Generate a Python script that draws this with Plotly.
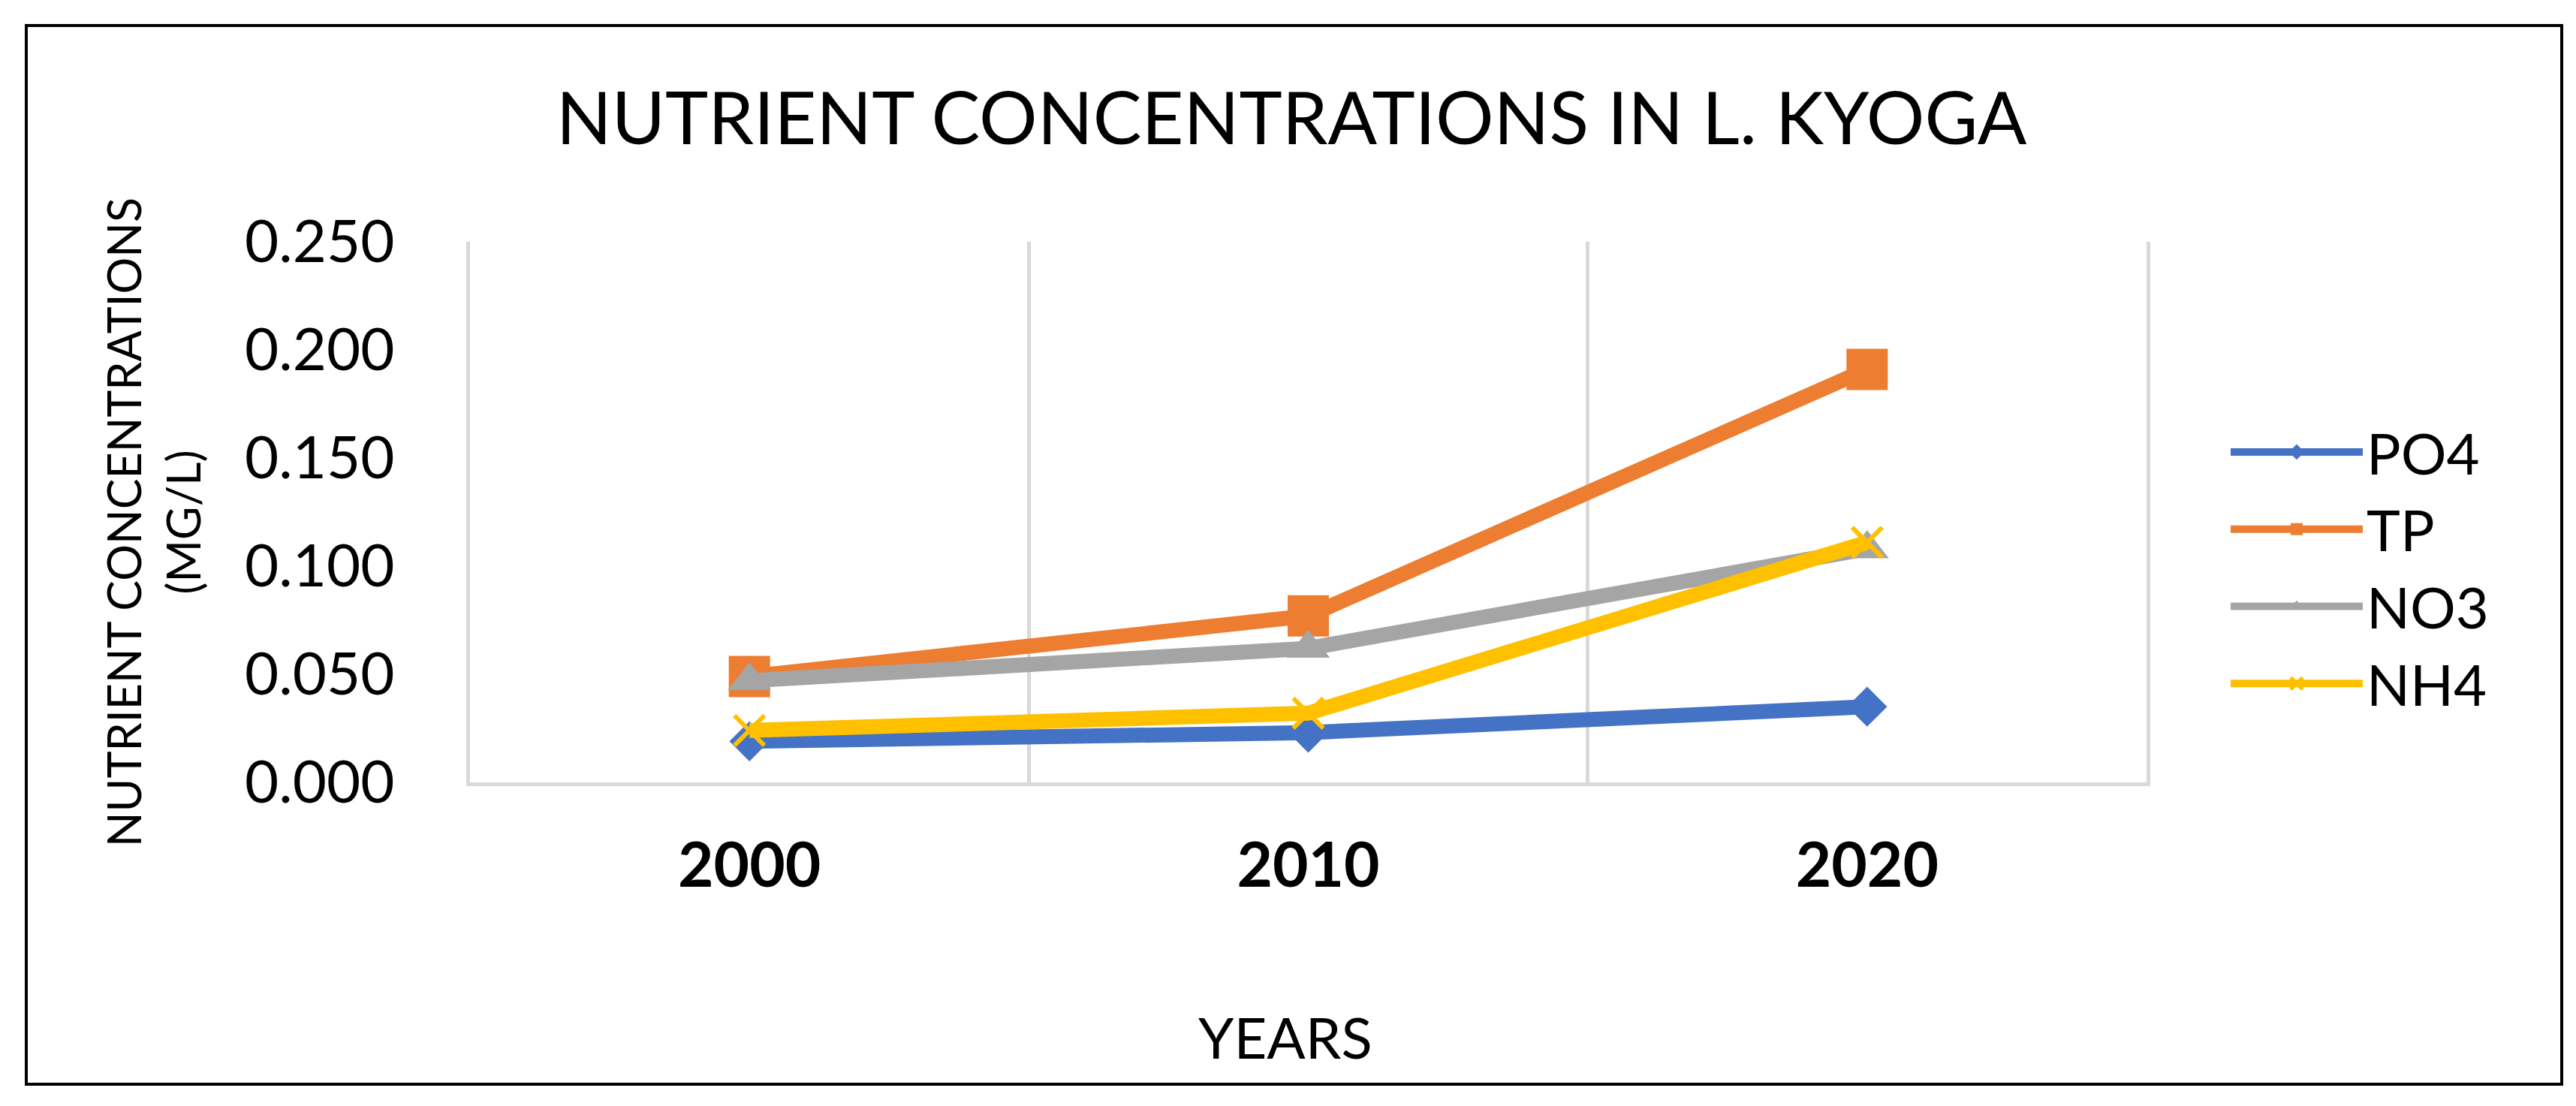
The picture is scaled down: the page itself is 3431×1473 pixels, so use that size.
import plotly.graph_objects as go

years = ["2000", "2010", "2020"]
po4 = [0.019, 0.023, 0.035]
tp = [0.049, 0.077, 0.191]
no3 = [0.047, 0.062, 0.108]
nh4 = [0.024, 0.032, 0.111]
y_ticks = [0.0, 0.05, 0.10, 0.15, 0.20, 0.25]

W, H = 3431, 1473
L, R, T, B = 618, 2851, 314, 1034  # plot area in px

def px(x):
    return (x - L) / (R - L)

def py(y):
    return (B - y) / (B - T)

FONT = "Lato"
fig = go.Figure()

series = [
    ("PO4", po4, "#4472C4", dict(symbol="diamond", size=41)),
    ("TP", tp, "#ED7D31", dict(symbol="square", size=55)),
    ("NO3", no3, "#A5A5A5", dict(symbol="triangle-up", size=50)),
    ("NH4", nh4, "#FFC000", dict(symbol="x-thin", size=40)),
]
for name, vals, col, mk in series:
    marker = dict(color=col, **mk)
    if mk["symbol"] == "x-thin":
        marker["line"] = dict(color=col, width=6)
    else:
        marker["line"] = dict(width=0)
    fig.add_trace(go.Scatter(
        x=years, y=vals, name=name, mode="lines+markers", legendgroup=name,
        line=dict(color=col, width=20), marker=marker,
    ))

fig.update_layout(
    width=W, height=H,
    margin=dict(l=L, r=W - R, t=T, b=H - B),
    paper_bgcolor="white", plot_bgcolor="white",
    font=dict(family=FONT, color="black"),
    title=dict(text="NUTRIENT CONCENTRATIONS IN L. KYOGA", xref="container",
               x=1712 / W, xanchor="center", yref="container",
               y=1 - 150 / H, yanchor="middle",
               font=dict(size=97, family=FONT, color="black")),
    showlegend=True,
    legend=dict(xref="container", yref="container", x=2958 / W, xanchor="left",
                y=1 - 538 / H, yanchor="top", font=dict(size=76, family=FONT),
                itemwidth=176, tracegroupgap=1, bgcolor="rgba(0,0,0,0)"),
)

fig.update_xaxes(
    type="category", range=[-0.5, 2.5], tickson="boundaries",
    showgrid=True, gridcolor="#D9D9D9", gridwidth=5,
    showline=True, linecolor="#D9D9D9", linewidth=5,
    ticks="", ticklabelstandoff=36,
    tickfont=dict(size=82, family=FONT, weight="bold", color="black"),
    zeroline=False,
)
fig.update_yaxes(
    range=[0, 0.25], tickvals=y_ticks, tickformat=".3f",
    showgrid=False, zeroline=False,
    showline=True, mirror=True, linecolor="#D9D9D9", linewidth=5,
    ticks="", ticklabelstandoff=80,
    tickfont=dict(size=78, family=FONT, color="black"),
)

fig.add_annotation(text="NUTRIENT CONCENTRATIONS<br>(MG/L)", xref="paper", yref="paper",
                   x=px(196), y=py(688), xanchor="center", yanchor="middle",
                   textangle=-90, showarrow=False,
                   font=dict(size=61, family=FONT, color="black"))
fig.add_annotation(text="YEARS", xref="paper", yref="paper",
                   x=px(1704), y=py(1372), xanchor="center", yanchor="middle",
                   showarrow=False, font=dict(size=76, family=FONT, color="black"))

fig.add_shape(type="rect", xref="paper", yref="paper",
              x0=px(27), x1=px(3404), y0=py(1436), y1=py(26),
              line=dict(color="black", width=4), fillcolor="rgba(0,0,0,0)", layer="below")

fig.write_html("out.html")
